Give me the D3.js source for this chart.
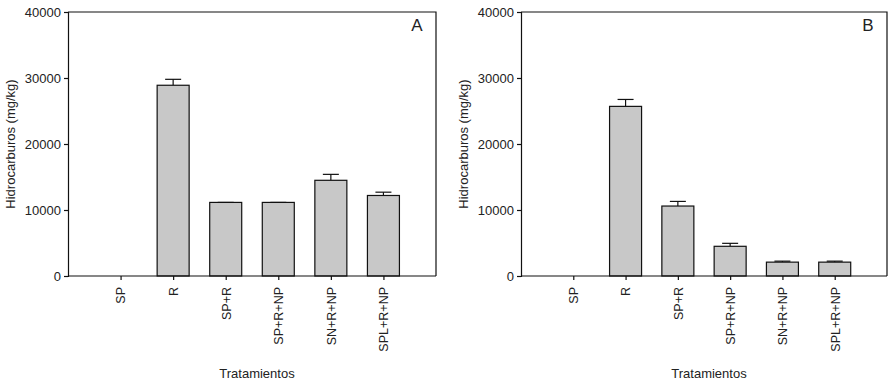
<!doctype html><html><head><style>body{margin:0;background:#fff}text{font-family:"Liberation Sans",Arial,sans-serif;fill:#222}</style></head><body><script src='https://d3js.org/d3.v7.min.js'></script>
<script>
  const categories = ["SP", "R", "SP+R", "SP+R+NP", "SN+R+NP", "SPL+R+NP"];
  const valuesA = [0, 28900, 11150, 11150, 14500, 12200];
  const errA = [0, 900, 0, 0, 900, 500];
  const valuesB = [0, 25700, 10600, 4500, 2100, 2100];
  const errB = [0, 1050, 700, 450, 150, 150];
  const yTicks = [0, 10000, 20000, 30000, 40000];

  const svg = d3.select("body").append("svg")
    .attr("width", 892).attr("height", 381);

  function panel(left, right, letter, values, errs) {
    const top = 12, bottom = 276;
    const y = d3.scaleLinear().domain([0, 40000]).range([bottom, top]);
    const x = d3.scalePoint().domain(categories).range([left, right]).padding(1);
    const bw = 32;
    const g = svg.append("g");

    // frame top/right
    g.append("path")
      .attr("d", "M" + left + "," + top + "H" + right + "V" + bottom)
      .attr("fill", "none").attr("stroke", "#111").attr("stroke-width", 1.2);

    // error bars (upward only)
    const eb = g.selectAll(".eb").data(values.map((v, i) => ({v: v, e: errs[i], c: categories[i]})).filter(d => d.v > 0))
      .enter().append("g");
    eb.append("line")
      .attr("x1", d => x(d.c)).attr("x2", d => x(d.c))
      .attr("y1", d => y(d.v)).attr("y2", d => y(d.v + d.e))
      .attr("stroke", "#111").attr("stroke-width", 1.2);
    eb.append("line")
      .attr("x1", d => x(d.c) - 8).attr("x2", d => x(d.c) + 8)
      .attr("y1", d => y(d.v + d.e)).attr("y2", d => y(d.v + d.e))
      .attr("stroke", "#111").attr("stroke-width", 1.2);

    g.selectAll("rect").data(values.map((v, i) => ({v: v, c: categories[i]})).filter(d => d.v > 0))
      .enter().append("rect")
      .attr("x", d => x(d.c) - bw / 2)
      .attr("y", d => y(d.v))
      .attr("width", bw)
      .attr("height", d => bottom - y(d.v))
      .attr("fill", "#c8c8c8")
      .attr("stroke", "#111").attr("stroke-width", 1.2);

    const ya = g.append("g").attr("transform", "translate(" + left + ",0)")
      .call(d3.axisLeft(y).tickValues(yTicks).tickSize(4).tickPadding(3).tickFormat(d3.format("d")));
    ya.select(".domain").attr("stroke", "#111").attr("stroke-width", 1.2);
    ya.selectAll(".tick line").attr("stroke", "#111").attr("stroke-width", 1.2);
    ya.selectAll("text").style("font-size", "13px").attr("fill", "#222");

    const xa = g.append("g").attr("transform", "translate(0," + bottom + ")")
      .call(d3.axisBottom(x).tickSize(4).tickSizeOuter(0));
    xa.select(".domain").attr("stroke", "#111").attr("stroke-width", 1.2)
      .attr("d", "M" + left + ",0H" + right);
    xa.selectAll(".tick line").attr("stroke", "#111").attr("stroke-width", 1.2);
    xa.selectAll("text")
      .style("font-size", "12.5px").attr("fill", "#222")
      .attr("transform", "rotate(-90)")
      .attr("x", -11).attr("y", 0).attr("dy", "0.35em")
      .style("text-anchor", "end");

    g.append("text")
      .attr("transform", "translate(" + (left - 53) + "," + ((top + bottom) / 2) + ") rotate(-90)")
      .attr("text-anchor", "middle")
      .style("font-size", "13px")
      .text("Hidrocarburos (mg/kg)");

    g.append("text")
      .attr("x", (left + right) / 2 + 5).attr("y", 378)
      .attr("text-anchor", "middle")
      .style("font-size", "13px")
      .text("Tratamientos");

    g.append("text")
      .attr("x", right - 19).attr("y", 31)
      .attr("text-anchor", "middle")
      .style("font-size", "17px")
      .text(letter);
  }

  panel(68, 436, "A", valuesA, errA);
  panel(521, 887, "B", valuesB, errB);
</script></body></html>
